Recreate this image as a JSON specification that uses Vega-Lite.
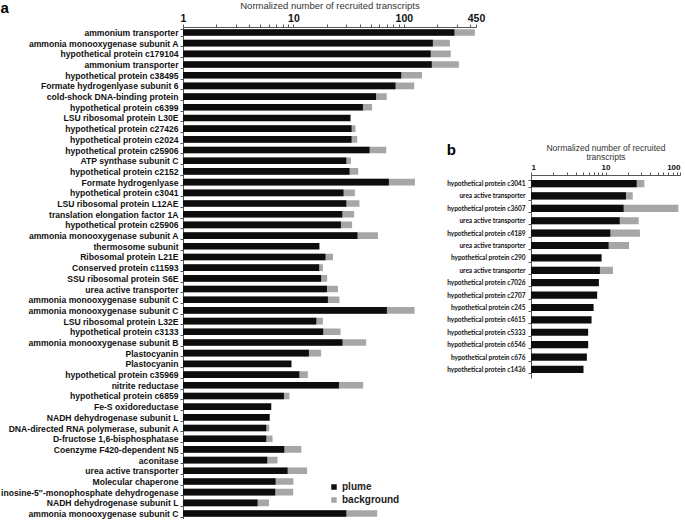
{
  "$schema": "https://vega.github.io/schema/vega-lite/v6.json",
  "padding": 0,
  "spacing": -39,
  "config": {
    "font": "Liberation Sans",
    "view": {"stroke": null},
    "axis": {"grid": false, "domainColor": "#555", "tickColor": "#555"}
  },
  "datasets": {
    "panelA": [
      {"name": "ammonium transporter", "plume": 287, "background": 439},
      {"name": "ammonia monooxygenase subunit A", "plume": 183, "background": 261},
      {"name": "hypothetical protein c179104", "plume": 175, "background": 266},
      {"name": "ammonium transporter\u200b", "plume": 179, "background": 315},
      {"name": "hypothetical protein c38495", "plume": 94.6, "background": 146},
      {"name": "Formate hydrogenlyase subunit 6", "plume": 84, "background": 124},
      {"name": "cold-shock DNA-binding protein", "plume": 56, "background": 70},
      {"name": "hypothetical protein c6399", "plume": 42.6, "background": 51.6},
      {"name": "LSU ribosomal protein L30E", "plume": 32.9, "background": null},
      {"name": "hypothetical protein c27426", "plume": 33.6, "background": 36.5},
      {"name": "hypothetical protein c2024", "plume": 33.6, "background": 37.8},
      {"name": "hypothetical protein c25906", "plume": 48.9, "background": 69.2},
      {"name": "ATP synthase subunit C", "plume": 30.1, "background": 33.1},
      {"name": "hypothetical protein c2152", "plume": 32.2, "background": 38.6},
      {"name": "Formate hydrogenlyase", "plume": 73.1, "background": 126},
      {"name": "hypothetical protein c3041", "plume": 28.4, "background": 36.0},
      {"name": "LSU ribosomal protein L12AE", "plume": 30.1, "background": 39.6},
      {"name": "translation elongation factor 1A", "plume": 27.7, "background": 35.5},
      {"name": "hypothetical protein c25906\u200b", "plume": 26.9, "background": 34.0},
      {"name": "ammonia monooxygenase subunit A\u200b", "plume": 38.0, "background": 58.2},
      {"name": "thermosome subunit", "plume": 17.2, "background": null},
      {"name": "Ribosomal protein L21E", "plume": 19.5, "background": 22.8},
      {"name": "Conserved protein c11593", "plume": 17.1, "background": 18.5},
      {"name": "SSU ribosomal protein S6E", "plume": 17.8, "background": 20.2},
      {"name": "urea active transporter", "plume": 20.1, "background": 25.3},
      {"name": "ammonia monooxygenase subunit C", "plume": 20.5, "background": 26.1},
      {"name": "ammonia monooxygenase subunit C\u200b", "plume": 70.2, "background": 125},
      {"name": "LSU ribosomal protein L32E", "plume": 16.1, "background": 18.5},
      {"name": "hypothetical protein c3133", "plume": 18.6, "background": 26.7},
      {"name": "ammonia monooxygenase subunit B", "plume": 27.8, "background": 45.6},
      {"name": "Plastocyanin", "plume": 13.8, "background": 17.8},
      {"name": "Plastocyanin\u200b", "plume": 9.6, "background": null},
      {"name": "hypothetical protein c35969", "plume": 11.3, "background": 13.5},
      {"name": "nitrite reductase", "plume": 25.8, "background": 42.8},
      {"name": "hypothetical protein c6859", "plume": 8.2, "background": 9.2},
      {"name": "Fe-S oxidoreductase", "plume": 6.3, "background": null},
      {"name": "NADH dehydrogenase subunit L", "plume": 6.1, "background": null},
      {"name": "DNA-directed RNA polymerase, subunit A", "plume": 5.67, "background": 6.04},
      {"name": "D-fructose 1,6-bisphosphatase", "plume": 5.67, "background": 6.47},
      {"name": "Coenzyme F420-dependent N5", "plume": 8.26, "background": 11.8},
      {"name": "aconitase", "plume": 5.79, "background": 7.18},
      {"name": "urea active transporter\u200b", "plume": 8.85, "background": 13.3},
      {"name": "Molecular chaperone", "plume": 6.89, "background": 10.0},
      {"name": "inosine-5''-monophosphate dehydrogenase", "plume": 6.84, "background": 9.96},
      {"name": "NADH dehydrogenase subunit L\u200b", "plume": 4.73, "background": 6.0},
      {"name": "ammonia monooxygenase subunit C\u200b\u200b", "plume": 30.1, "background": 57.3}
    ],
    "panelB": [
      {"name": "hypothetical protein c3041", "plume": 26.2, "background": 33.2},
      {"name": "urea active transporter", "plume": 18.8, "background": 23.2},
      {"name": "hypothetical protein c3607", "plume": 17.5, "background": 95},
      {"name": "urea active transporter\u200b", "plume": 15.5, "background": 27.9},
      {"name": "hypothetical protein c4189", "plume": 11.6, "background": 29.0},
      {"name": "urea active transporter\u200b\u200b", "plume": 11.0, "background": 20.7},
      {"name": "hypothetical protein c290", "plume": 8.87, "background": null},
      {"name": "urea active transporter\u200b\u200b\u200b", "plume": 8.41, "background": 12.6},
      {"name": "hypothetical protein c7026", "plume": 8.15, "background": null},
      {"name": "hypothetical protein c2707", "plume": 7.73, "background": null},
      {"name": "hypothetical protein c245", "plume": 6.92, "background": null},
      {"name": "hypothetical protein c4615", "plume": 6.5, "background": null},
      {"name": "hypothetical protein c5333", "plume": 5.85, "background": null},
      {"name": "hypothetical protein c6546", "plume": 5.85, "background": null},
      {"name": "hypothetical protein c676", "plume": 5.62, "background": null},
      {"name": "hypothetical protein c1436", "plume": 5.07, "background": null}
    ]
  },
  "resolve": {"legend": {"color": "independent"}},
  "hconcat": [
    {
      "width": 293,
      "height": 492,
      "title": {"text": "a", "anchor": "start", "frame": "bounds", "fontSize": 15, "fontWeight": "bold", "offset": -16},
      "data": {"name": "panelA"},
      "transform": [{"fold": ["background", "plume"], "as": ["series", "value"]}],
      "mark": {"type": "bar"},
      "encoding": {
        "y": {
          "field": "name", "type": "nominal", "sort": null,
          "scale": {"paddingInner": 0.38, "paddingOuter": 0.2},
          "axis": {"title": null, "labelFontSize": 8.6, "labelFontWeight": "bold", "labelColor": "#111", "labelPadding": 2, "tickSize": 3, "tickBand": "extent", "labelLimit": 0}
        },
        "x": {
          "field": "value", "type": "quantitative", "stack": null,
          "scale": {"type": "log", "domain": [1, 450], "nice": false},
          "axis": {
            "orient": "top",
            "title": "Normalized number of recruited transcripts",
            "titleFontSize": 9.5, "titleFontWeight": "normal", "titleColor": "#333", "titlePadding": 3,
            "values": [1, 2, 3, 4, 5, 6, 7, 8, 9, 10, 20, 30, 40, 50, 60, 70, 80, 90, 100, 200, 300, 400, 450],
            "labelExpr": "(datum.value == 1 || datum.value == 10 || datum.value == 100 || datum.value == 450) ? format(datum.value, 'd') : ''",
            "labelFontSize": 10.5, "labelFontWeight": "bold", "labelColor": "#111",
            "labelOverlap": false, "labelFlush": false, "labelPadding": 1, "tickSize": 3
          }
        },
        "color": {
          "field": "series", "type": "nominal",
          "scale": {"domain": ["plume", "background"], "range": ["#0d0d0d", "#a6a6a6"]},
          "legend": {
            "title": null, "orient": "none", "legendX": 146, "legendY": 455,
            "symbolType": "square", "symbolSize": 30, "symbolStrokeWidth": 0,
            "labelFontSize": 10, "labelFontWeight": "bold", "labelColor": "#222",
            "labelOffset": 3, "rowPadding": 3, "padding": 0
          }
        }
      }
    },
    {
      "spacing": 0,
      "vconcat": [
        {
          "width": 149,
          "height": 116,
          "data": {"values": []},
          "mark": "point",
          "encoding": {}
        },
        {
          "width": 149,
          "height": 203,
          "title": {"text": "b", "anchor": "start", "frame": "bounds", "fontSize": 15, "fontWeight": "bold", "offset": -15},
          "data": {"name": "panelB"},
          "transform": [{"fold": ["background", "plume"], "as": ["series", "value"]}],
          "mark": {"type": "bar"},
          "encoding": {
            "y": {
              "field": "name", "type": "nominal", "sort": null,
              "scale": {"paddingInner": 0.42, "paddingOuter": 0.4},
              "axis": {"title": null, "labelFont": "Lato", "labelFontSize": 6.5, "labelFontWeight": "bold", "labelColor": "#111", "labelPadding": 3, "tickSize": 3, "tickBand": "extent", "labelLimit": 0}
            },
            "x": {
              "field": "value", "type": "quantitative", "stack": null,
              "scale": {"type": "log", "domain": [1, 100], "nice": false},
              "axis": {
                "orient": "top",
                "title": ["Normalized number of recruited", "transcripts"],
                "titleFontSize": 8.5, "titleFontWeight": "normal", "titleColor": "#333", "titlePadding": 2, "titleLineHeight": 9,
                "values": [1, 2, 3, 4, 5, 6, 7, 8, 9, 10, 20, 30, 40, 50, 60, 70, 80, 90, 100],
                "labelExpr": "(datum.value == 1 || datum.value == 10 || datum.value == 100) ? format(datum.value, 'd') : ''",
                "labelFontSize": 8, "labelFontWeight": "bold", "labelColor": "#111",
                "labelOverlap": false, "labelFlush": true, "labelPadding": 1, "tickSize": 3
              }
            },
            "color": {
              "field": "series", "type": "nominal",
              "scale": {"domain": ["plume", "background"], "range": ["#0d0d0d", "#a6a6a6"]},
              "legend": null
            }
          }
        }
      ]
    }
  ]
}
